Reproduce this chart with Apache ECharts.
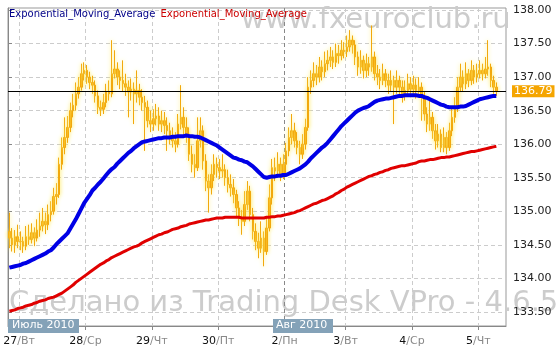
<!DOCTYPE html>
<html><head><meta charset="utf-8">
<script src="https://cdn.jsdelivr.net/npm/echarts@6/dist/echarts.min.js"></script>
<style>html,body{margin:0;padding:0;background:#fff}#c{width:559px;height:356px}</style>
</head><body><div id="c"></div>
<script>
// hourly bars: [day, firstHour, lastHour]
const sessionDays = [['26.07',20,23],['27.07',0,23],['28.07',0,23],['29.07',0,23],['30.07',0,23],['02.08',2,23],['03.08',0,23],['04.08',0,23],['05.08',0,9]];
const dayTickPositions = [4,28,52,76,100,122,146,170];
const dayNums = ['27','28','29','30','2','3','4','5'];
const dayNames = ['Вт','Ср','Чт','Пт','Пн','Вт','Ср','Чт'];
const priceTicks = [133.5,134,134.5,135,135.5,136,136.5,137,137.5,138];
const lastPrice = 136.79;

const opens = [134.70,134.60,134.50,134.62,
134.55,134.55,134.48,134.62,134.58,134.68,134.60,134.72,134.78,134.85,134.80,134.95,135.00,135.22,135.25,135.70,135.95,136.10,136.25,136.50,136.58,136.75,136.85,137.05,
137.10,137.00,136.92,136.88,136.72,136.55,136.52,136.62,136.78,136.75,137.05,137.12,137.00,136.95,136.90,136.85,136.78,136.82,136.75,136.80,136.70,136.62,136.55,136.35,
136.30,136.38,136.42,136.30,136.35,136.28,136.20,136.10,136.05,136.00,136.30,136.40,136.25,136.15,135.85,135.70,135.65,136.05,136.20,135.75,135.45,135.35,135.55,135.70,
135.65,135.60,135.62,135.50,135.40,135.35,135.25,135.05,134.90,134.85,135.10,135.30,134.95,134.70,134.55,134.45,134.60,134.40,134.75,135.20,135.65,135.60,135.70,135.55,
135.70,135.90,136.10,136.20,136.05,135.95,135.85,136.00,136.25,136.85,136.95,137.05,137.00,137.15,137.08,137.20,137.25,137.30,137.22,137.35,137.32,137.40,
137.38,137.45,137.55,137.48,137.30,137.15,137.25,137.10,137.20,137.15,137.30,137.05,137.00,136.95,137.05,136.95,136.88,136.95,136.85,136.95,136.85,136.75,136.80,136.90,
136.82,136.88,136.80,136.85,136.70,136.45,136.30,136.40,136.20,136.05,136.15,135.95,136.10,135.95,136.20,136.40,136.55,136.85,137.00,136.90,137.05,136.95,137.10,137.00,
137.05,137.10,137.05,137.12,137.15,136.95,136.85];
const closes = [134.60,134.50,134.62,134.55,
134.55,134.48,134.62,134.58,134.68,134.60,134.72,134.78,134.85,134.80,134.95,135.00,135.22,135.25,135.70,135.95,136.10,136.25,136.50,136.58,136.75,136.85,137.05,137.10,
137.00,136.92,136.88,136.72,136.55,136.52,136.62,136.78,136.75,137.05,137.12,137.00,136.95,136.90,136.85,136.78,136.82,136.75,136.80,136.70,136.62,136.55,136.35,136.30,
136.38,136.42,136.30,136.35,136.28,136.20,136.10,136.05,136.00,136.30,136.40,136.25,136.15,135.85,135.70,135.65,136.05,136.20,135.75,135.45,135.35,135.55,135.70,135.65,
135.60,135.62,135.50,135.40,135.35,135.25,135.05,134.90,134.85,135.10,135.30,134.95,134.70,134.55,134.45,134.60,134.40,134.75,135.20,135.65,135.60,135.70,135.55,135.70,
135.90,136.10,136.20,136.05,135.95,135.85,136.00,136.25,136.85,136.95,137.05,137.00,137.15,137.08,137.20,137.25,137.30,137.22,137.35,137.32,137.40,137.38,
137.45,137.55,137.48,137.30,137.15,137.25,137.10,137.20,137.15,137.30,137.05,137.00,136.95,137.05,136.95,136.88,136.95,136.85,136.95,136.85,136.75,136.80,136.90,136.82,
136.88,136.80,136.85,136.70,136.45,136.30,136.40,136.20,136.05,136.15,135.95,136.10,135.95,136.20,136.40,136.55,136.85,137.00,136.90,137.05,136.95,137.10,137.00,137.05,
137.10,137.05,137.12,137.15,136.95,136.85,136.79];
const highs = [134.98,134.75,134.72,134.80,
134.70,134.62,134.78,134.80,134.82,134.76,134.88,134.98,135.05,134.98,135.10,135.15,135.35,135.42,135.80,136.10,136.40,136.42,136.62,136.75,136.92,137.00,137.20,137.22,
137.18,137.08,137.02,136.95,136.80,136.65,136.75,136.90,136.95,137.55,137.40,137.22,137.10,137.25,137.05,136.95,136.98,136.92,137.10,136.90,136.82,136.72,136.65,136.50,
136.52,136.60,136.55,136.50,136.48,136.40,136.32,136.25,136.18,136.45,136.88,136.55,136.40,136.25,135.98,135.85,136.40,136.40,136.28,135.85,135.55,135.70,135.85,135.80,
135.78,135.85,135.70,135.62,135.55,135.48,135.32,135.15,135.02,135.30,135.45,135.38,135.05,134.82,134.68,134.85,134.70,134.90,135.40,135.78,135.80,135.88,135.80,135.85,
136.02,136.25,136.45,136.32,136.18,136.05,136.15,136.38,137.00,137.10,137.22,137.18,137.30,137.25,137.38,137.40,137.45,137.40,137.50,137.48,137.55,137.52,
137.62,137.70,137.62,137.55,137.38,137.40,137.32,137.35,137.30,137.77,137.38,137.18,137.12,137.20,137.12,137.05,137.10,137.02,137.10,137.02,136.95,136.95,137.05,137.00,
137.02,136.98,137.00,136.92,136.78,136.55,136.70,136.48,136.30,136.30,136.22,136.25,136.18,136.32,136.55,136.70,137.00,137.20,137.10,137.22,137.12,137.25,137.18,137.20,
137.25,137.20,137.30,137.55,137.20,137.02,136.92];
const lows = [134.45,134.40,134.38,134.45,
134.42,134.38,134.42,134.50,134.52,134.48,134.55,134.62,134.70,134.66,134.72,134.85,134.95,135.10,135.20,135.62,135.85,136.02,136.18,136.40,136.50,136.68,136.80,136.95,
136.90,136.82,136.75,136.62,136.45,136.42,136.45,136.55,136.65,136.70,136.98,136.88,136.82,136.78,136.72,136.40,136.65,136.30,136.62,136.58,136.50,135.90,136.25,136.18,
136.20,136.28,136.20,136.18,136.15,135.90,136.00,135.95,135.88,135.95,136.22,136.12,136.02,135.75,135.58,135.50,135.60,135.95,135.62,135.30,134.98,135.25,135.45,135.50,
135.48,135.50,135.38,135.28,135.22,135.12,134.92,134.78,134.65,134.78,135.02,134.85,134.58,134.42,134.30,134.38,134.18,134.35,134.70,135.10,135.45,135.50,135.45,135.48,
135.55,135.82,136.00,135.95,135.85,135.70,135.78,135.92,136.20,136.75,136.85,136.88,136.92,136.95,137.00,137.10,137.15,137.12,137.15,137.20,137.25,137.28,
137.30,137.38,137.35,137.18,137.02,137.05,136.98,137.00,137.02,137.08,136.95,136.88,136.82,136.88,136.85,136.75,136.78,136.30,136.75,136.72,136.62,136.65,136.72,136.70,
136.72,136.68,136.70,136.35,136.35,136.18,136.20,136.08,135.92,135.95,135.88,135.88,135.85,135.90,136.12,136.32,136.48,136.78,136.78,136.82,136.85,136.88,136.90,136.92,
136.98,136.95,136.98,137.02,136.85,136.75,136.72];
const emaFast = [134.16,134.17,134.18,134.19,
134.20,134.22,134.23,134.25,134.27,134.29,134.31,134.33,134.35,134.37,134.40,134.42,134.46,134.51,134.55,134.59,134.63,134.67,134.74,134.81,134.88,134.96,135.04,135.12,
135.18,135.24,135.31,135.35,135.40,135.44,135.49,135.54,135.59,135.63,135.66,135.71,135.75,135.79,135.83,135.87,135.90,135.94,135.97,136.00,136.03,136.04,136.05,136.06,
136.07,136.08,136.09,136.09,136.10,136.10,136.10,136.11,136.11,136.12,136.12,136.12,136.13,136.12,136.12,136.11,136.11,136.10,136.08,136.06,136.04,136.02,136.00,135.98,
135.95,135.92,135.89,135.86,135.83,135.80,135.79,135.77,135.76,135.74,135.73,135.70,135.67,135.63,135.59,135.55,135.51,135.50,135.51,135.52,135.52,135.53,135.53,135.54,
135.54,135.56,135.58,135.60,135.62,135.64,135.67,135.70,135.74,135.79,135.83,135.87,135.91,135.95,135.98,136.02,136.07,136.12,136.17,136.22,136.27,136.31,
136.35,136.39,136.43,136.47,136.50,136.52,136.54,136.55,136.57,136.60,136.63,136.65,136.66,136.67,136.68,136.68,136.69,136.70,136.71,136.72,136.72,136.73,136.73,136.73,
136.73,136.73,136.72,136.72,136.70,136.69,136.67,136.65,136.63,136.61,136.59,136.58,136.56,136.55,136.55,136.55,136.55,136.56,136.56,136.57,136.59,136.61,136.63,136.65,
136.67,136.68,136.69,136.70,136.71,136.72,136.72];
const emaSlow = [133.51,133.52,133.53,133.55,
133.56,133.57,133.59,133.60,133.61,133.63,133.64,133.66,133.67,133.68,133.70,133.71,133.72,133.74,133.76,133.78,133.81,133.84,133.87,133.90,133.94,133.97,134.00,134.03,
134.06,134.09,134.12,134.15,134.18,134.21,134.23,134.26,134.28,134.31,134.33,134.35,134.37,134.39,134.41,134.43,134.45,134.47,134.48,134.50,134.53,134.55,134.57,134.59,
134.61,134.63,134.65,134.66,134.68,134.69,134.71,134.73,134.74,134.75,134.77,134.78,134.79,134.81,134.82,134.83,134.84,134.85,134.86,134.87,134.87,134.88,134.89,134.90,
134.90,134.90,134.91,134.91,134.91,134.91,134.91,134.91,134.90,134.90,134.90,134.90,134.90,134.90,134.90,134.90,134.90,134.91,134.91,134.92,134.92,134.93,134.93,134.94,
134.95,134.96,134.97,134.98,135.00,135.01,135.03,135.05,135.07,135.09,135.11,135.12,135.14,135.16,135.17,135.19,135.21,135.23,135.26,135.28,135.31,135.33,
135.36,135.38,135.40,135.42,135.44,135.46,135.48,135.50,135.52,135.53,135.55,135.56,135.58,135.59,135.61,135.62,135.64,135.65,135.66,135.67,135.68,135.68,135.69,135.70,
135.71,135.72,135.74,135.75,135.75,135.76,135.77,135.77,135.78,135.79,135.80,135.80,135.81,135.81,135.82,135.83,135.84,135.85,135.86,135.87,135.88,135.89,135.89,135.90,
135.91,135.92,135.93,135.94,135.95,135.96,135.97];

const categories = [];
sessionDays.forEach(([d, h0, h1]) => { for (let h = h0; h <= h1; h++) categories.push(d + ' ' + (h < 10 ? '0' : '') + h + ':00'); });
const candles = closes.map((c, i) => [opens[i], c, lows[i], highs[i]]);

const FF = 'DejaVu Sans';
const ORANGE = '#F5A300';
const chart = echarts.init(document.getElementById('c'), null, {renderer: 'canvas'});
chart.setOption({
  animation: false,
  backgroundColor: '#fff',
  title: {
    text: '{a|Exponential_Moving_Average} {b|Exponential_Moving_Average}',
    left: 9, top: 9, padding: 0,
    textStyle: { fontFamily: FF, fontSize: 10, fontWeight: 'normal',
      rich: { a: {color: '#000088', fontFamily: FF, fontSize: 10, padding: [0, 2, 0, 0]}, b: {color: '#CC0000', fontFamily: FF, fontSize: 10} } }
  },
  grid: { left: 8, top: 8, width: 498, height: 318, show: true, borderColor: '#999', borderWidth: 1, backgroundColor: 'transparent' },
  graphic: [
    { type: 'text', z: 0, left: 241, top: 6, style: { text: 'www.fxeuroclub.ru', fill: '#cccccc', font: '29px "DejaVu Sans"' } },
    { type: 'text', z: 0, left: 9, top: 289, style: { text: 'Сделано из Trading Desk VPro - 4.6.5', fill: '#cccccc', font: '29px "DejaVu Sans"' } },
    { type: 'rect', z: 100, shape: { x: 8, y: 319, width: 71, height: 14 }, style: { fill: '#84A2B8' } },
    { type: 'text', z: 101, left: 12, top: 320, style: { text: 'Июль 2010', fill: '#fff', font: '11px "DejaVu Sans"' } },
    { type: 'rect', z: 100, shape: { x: 273, y: 319, width: 60, height: 14 }, style: { fill: '#84A2B8' } },
    { type: 'text', z: 101, left: 276, top: 320, style: { text: 'Авг 2010', fill: '#fff', font: '11px "DejaVu Sans"' } }
  ],
  xAxis: [
    { type: 'category', data: categories, show: false, boundaryGap: true },
    { type: 'value', min: 0, max: categories.length, position: 'bottom',
      axisLine: { show: true, lineStyle: { color: '#888' } },
      axisTick: { show: true, customValues: dayTickPositions, length: 4, lineStyle: { color: '#888' } },
      axisLabel: { customValues: dayTickPositions, margin: 10,
        formatter: v => { const k = dayTickPositions.indexOf(Math.round(v)); return k < 0 ? '' : '{n|' + dayNums[k] + '}{d|/' + dayNames[k] + '}'; },
        rich: { n: { color: '#111', fontFamily: FF, fontSize: 11 }, d: { color: '#888', fontFamily: FF, fontSize: 11 } } },
      splitLine: { show: true, lineStyle: { color: ['#ccc','#ccc','#ccc','#ccc','#888','#ccc','#ccc','#ccc'], type: [4, 3] } } }
  ],
  yAxis: {
    type: 'value', position: 'right', min: 133.29, max: 138.03, scale: true,
    axisLine: { show: true, lineStyle: { color: '#888' } },
    axisTick: { show: true, customValues: priceTicks, length: 4, lineStyle: { color: '#888' } },
    axisLabel: { customValues: priceTicks, formatter: v => v.toFixed(2), color: '#222', fontFamily: FF, fontSize: 11, margin: 7 },
    splitLine: { show: true, lineStyle: { color: '#ccc', type: [4, 3] } }
  },
  series: [
    { type: 'candlestick', xAxisIndex: 0, data: candles, barWidth: 2, z: 3,
      itemStyle: { color: ORANGE, color0: ORANGE, borderColor: '#F2A80C', borderColor0: '#F2A80C', borderWidth: 1,
        shadowBlur: 4, shadowColor: 'rgba(255,232,100,1)' },
      markLine: { symbol: 'none', silent: true, z: 5, animation: false,
        lineStyle: { color: '#000', width: 1, type: 'solid' },
        label: { position: 'end', distance: 6, formatter: () => lastPrice.toFixed(2), color: '#fff', backgroundColor: '#F5A500',
          fontFamily: FF, fontSize: 11, padding: [1, 2, 0, 2] },
        data: [{ yAxis: lastPrice }] } },
    { type: 'line', xAxisIndex: 0, data: emaFast, showSymbol: false, z: 4, lineStyle: { color: '#0000E6', width: 4 } },
    { type: 'line', xAxisIndex: 0, data: emaSlow, showSymbol: false, z: 4, lineStyle: { color: '#E00000', width: 3 } }
  ]
});
</script></body></html>
